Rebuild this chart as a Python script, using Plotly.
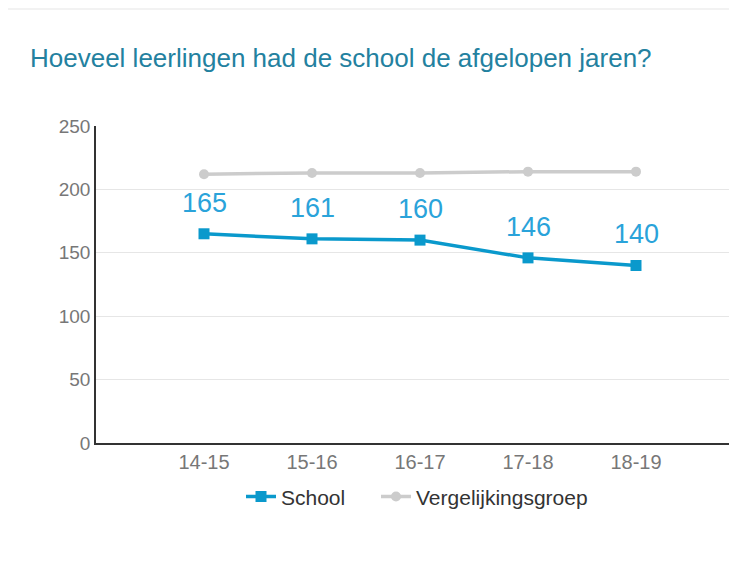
import plotly.graph_objects as go

years = ["14-15", "15-16", "16-17", "17-18", "18-19"]
school = [165, 161, 160, 146, 140]
vergelijking = [212, 213, 213, 214, 214]
y_ticks = [0, 50, 100, 150, 200, 250]

title_text = "Hoeveel leerlingen had de school de afgelopen jaren?"
BLUE = "#0a99cc"
GRAY = "#cccccc"
LABEL = "#2aa3da"
FONT = "Liberation Sans, Arial, sans-serif"

fig = go.Figure()
fig.add_trace(go.Scatter(
    x=years, y=school, name="School", mode="lines+markers",
    line=dict(color=BLUE, width=3.5),
    marker=dict(symbol="square", size=11, color=BLUE),
    legend="legend",
))
fig.add_trace(go.Scatter(
    x=years, y=vergelijking, name="Vergelijkingsgroep", mode="lines+markers",
    line=dict(color=GRAY, width=3.5),
    marker=dict(symbol="circle", size=10, color=GRAY),
    legend="legend2",
))

annotations = [
    dict(x=xv, y=yv, text=str(yv), xref="x", yref="y", showarrow=False,
         yshift=31, font=dict(family=FONT, size=27, color=LABEL))
    for xv, yv in zip(years, school)
]

PW = 737 - 88  # plot width in px
annotations.append(dict(
    text=title_text, xref="paper", yref="paper", x=-68 / PW, y=1.215,
    xanchor="left", yanchor="middle", showarrow=False,
    font=dict(family=FONT, size=26, color="#23819f"),
))

leg_common = dict(orientation="h", y=-0.17, yanchor="middle", xanchor="left",
                  font=dict(family=FONT, size=21, color="#333333"), itemwidth=30)

fig.update_layout(
    width=737, height=564,
    margin=dict(l=88, r=0, t=118, b=129),
    paper_bgcolor="white", plot_bgcolor="white",
    font=dict(family=FONT),
    showlegend=True,
    legend=dict(x=(246 - 5 - 96) / PW, **leg_common),
    legend2=dict(x=(381 - 5 - 96) / PW, **leg_common),
    annotations=annotations,
    shapes=[dict(type="line", xref="paper", yref="paper",
                 x0=-88 / PW, x1=1.0, y0=1.369, y1=1.369,
                 line=dict(color="#f2f2f2", width=2))],
    xaxis=dict(
        type="category", range=[-1, -1 + PW / 108], showgrid=False,
        showline=True, linecolor="#333333", linewidth=2,
        ticks="", tickfont=dict(family=FONT, size=20, color="#777777"),
        zeroline=False,
    ),
    yaxis=dict(
        range=[0, 250], tickvals=y_ticks, showgrid=True, gridcolor="#e6e6e6",
        gridwidth=1, showline=True, linecolor="#333333", linewidth=1.5,
        ticks="", tickfont=dict(family=FONT, size=19, color="#777777"),
        zeroline=False,
    ),
)

fig.write_html("out.html")
